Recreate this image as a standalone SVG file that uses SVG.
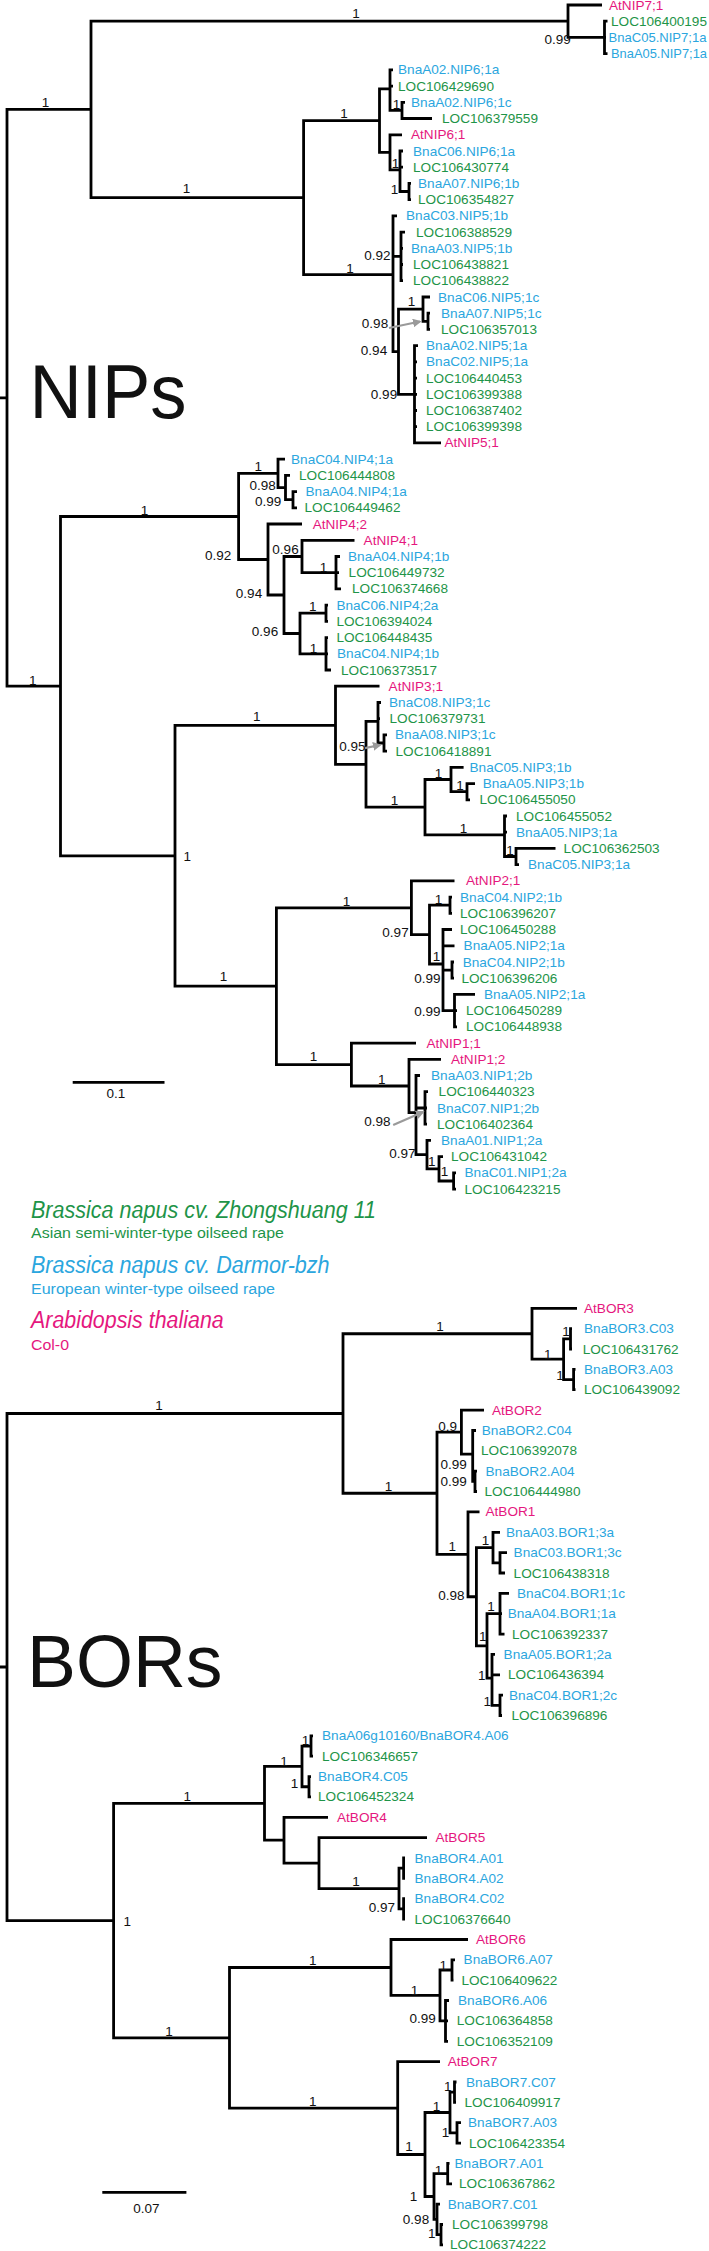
<svg xmlns="http://www.w3.org/2000/svg" width="709" height="2251" viewBox="0 0 709 2251">
<defs>
<style>
.t{font-family:"Liberation Sans",Arial,sans-serif;font-size:13.6px;dominant-baseline:central}
.m{fill:#e5177e}.b{fill:#2ba6de}.g{fill:#1e9448}
.s{font-family:"Liberation Sans",Arial,sans-serif;font-size:13.5px;fill:#111;text-anchor:middle;dominant-baseline:central}
.big{font-family:"Liberation Sans",Arial,sans-serif;fill:#111}
.lg{font-family:"Liberation Sans",Arial,sans-serif}
.br path{fill:none;stroke:#000;stroke-width:2.8;stroke-linejoin:miter}
.ar{fill:none;stroke:#9a9a9a;stroke-width:2.2}
</style>
<marker id="ah" viewBox="0 0 10 10" refX="8" refY="5" markerWidth="4" markerHeight="4" orient="auto"><path d="M0 0L10 5L0 10z" fill="#9a9a9a"/></marker>
</defs>
<rect width="709" height="2251" fill="#fff"/>
<g id="connectors" class="br">
<path d="M0 397.8H7M91 109.4H7V686.2H60.5"/>
<path d="M568 21.2H91V197.6H303.6"/>
<path d="M602 5H568V37.4H604.5"/>
<path d="M607.5 21.2H604.5V53.7H607.5M604.5 37.4H606"/>
<path d="M379.5 120.6H303.6V274.7H393"/>
<path d="M390 88.8H379.5V152.4H390"/>
<path d="M393 69.9H390V110.4H402M390 86.1H393"/>
<path d="M405 102.3H402V118.5H432"/>
<path d="M402 134.8H390V169.9H400"/>
<path d="M403 151H400V191.5H409M400 167.2H403"/>
<path d="M411 183.4H409V199.6H411"/>
<path d="M397 215.9H393V351.7H398.5M393 256.4H401"/>
<path d="M405 232.1H401V280.7H403M401 248.3H403M401 264.5H403"/>
<path d="M423 309.2H398.5V394.3H414.5"/>
<path d="M430 297H423V321.3H428"/>
<path d="M430 313.2H428V329.4H430"/>
<path d="M418 345.6H414.5V442.9H441M414.5 361.8H417M414.5 378.1H417M414.5 394.3H417M414.5 410.5H417M414.5 426.7H417"/>
<path d="M238.6 516.5H60.5V855.8H175"/>
<path d="M278 473.4H238.6V559.5H268"/>
<path d="M285 459.2H278V487.6H285.5"/>
<path d="M290 475.4H285.5V499.7H293"/>
<path d="M297 491.6H293V507.8H297"/>
<path d="M302 524H268V595H284"/>
<path d="M302 556.5H284V633.5H300"/>
<path d="M354.5 540.3H302V572.7H336"/>
<path d="M340 556.5H336V588.9H341M336 572.7H339"/>
<path d="M326 613.2H300V653.8H326"/>
<path d="M328 605.1H326V621.4H328"/>
<path d="M328 637.6H326V670H331M326 653.8H328"/>
<path d="M335.5 725.3H175V986.2H276.4"/>
<path d="M379.5 686.2H335.5V764.3H366"/>
<path d="M378 721.4H366V807.2H425"/>
<path d="M381 702.5H378V743H384M378 718.7H380"/>
<path d="M387 734.9H384V751.1H387"/>
<path d="M451 779.5H425V834.9H504.5"/>
<path d="M463.6 767.3H451V791.7H467"/>
<path d="M475 783.6H467V799.8H470"/>
<path d="M507 816H504.5V856.5H516M504.5 832.2H507"/>
<path d="M555.5 848.4H516V864.7H519"/>
<path d="M411.4 907.8H276.4V1064.6H351.4"/>
<path d="M454.5 880.9H411.4V934.6H429.5"/>
<path d="M450 905.2H429.5V964H443"/>
<path d="M452 897.1H450V913.3H452"/>
<path d="M452 929.5H443V1010.6H454.5M443 945.8H454.5M443 970.1H452"/>
<path d="M454 962H452V978.2H454"/>
<path d="M475 994.4H454.5V1026.9H457M454.5 1010.6H457"/>
<path d="M416 1043.1H351.4V1086H409"/>
<path d="M441 1059.3H409V1112.7H416"/>
<path d="M420 1075.5H416V1154.6H427M416 1108H425"/>
<path d="M428 1091.7H425V1124.2H427M425 1108H427"/>
<path d="M431 1140.4H427V1168.8H439"/>
<path d="M443 1156.6H439V1181H453.6"/>
<path d="M456 1172.8H453.6V1189.1H456"/>
<path d="M72.7 1082.3H164.5"/>
<path d="M0 1667H7M343 1413.5H7V1920.55H113.6"/>
<path d="M532 1333.75H343V1493.25H437"/>
<path d="M577 1308.3H532V1359.2H563.6"/>
<path d="M570.5 1338.85H563.6V1379.55H573.6"/>
<path d="M572 1328.7H570.5V1349H572"/>
<path d="M575.5 1369.4H573.6V1389.7H575.5"/>
<path d="M461.4 1432.2H437V1554.3H468"/>
<path d="M484 1410.1H461.4V1454.2H472.7"/>
<path d="M476 1430.5H472.7V1481.35H475M472.7 1450.8H474"/>
<path d="M477 1471.2H475V1491.5H477"/>
<path d="M479.5 1511.9H468V1596.75H476.4"/>
<path d="M493 1547.55H476.4V1645.95H487"/>
<path d="M500 1532.3H493V1562.8H500"/>
<path d="M507 1552.6H500V1573H505"/>
<path d="M500 1613.7H487V1678.2H492"/>
<path d="M509 1593.3H500V1634.1H504.5M500 1613.7H502"/>
<path d="M495 1654.4H492V1705.3H500M492 1674.8H500"/>
<path d="M503 1695.1H500V1715.5H502"/>
<path d="M264.5 1803.3H113.6V2037.8H229.5"/>
<path d="M302 1766.4H264.5V1840.2H284"/>
<path d="M311 1746.05H302V1786.75H309"/>
<path d="M313 1735.9H311V1756.2H313"/>
<path d="M311 1776.6H309V1796.9H311"/>
<path d="M328 1817.3H284V1863.1H319"/>
<path d="M427 1837.7H319V1888.55H399"/>
<path d="M403.6 1868.2H399V1908.9H403.6"/>
<path d="M405 1858H403.6V1878.4H405"/>
<path d="M405 1898.7H403.6V1919.1H405"/>
<path d="M391 1967.5H229.5V2108.05H397.7"/>
<path d="M468 1939.5H391V1995.45H440"/>
<path d="M452 1970H440V2020.9H445.5"/>
<path d="M455 1959.8H452V1980.2H453.5"/>
<path d="M449 2000.5H445.5V2041.3H448M445.5 2020.9H448"/>
<path d="M440 2061.6H397.7V2154.5H425"/>
<path d="M450 2112.5H425V2196.5H434"/>
<path d="M454.5 2092.15H450V2132.9H457"/>
<path d="M456.5 2082H454.5V2102.3H456"/>
<path d="M461 2122.7H457V2143.1H461"/>
<path d="M447.7 2173.6H434V2219.4H437"/>
<path d="M449.5 2163.4H447.7V2183.8H452"/>
<path d="M440 2204.1H437V2234.7H441"/>
<path d="M443 2224.5H441V2244.9H443"/>
<path d="M102.3 2192.3H186.4"/>
</g>
<g id="arrows">
<path class="ar" d="M389 328L420 321.5" marker-end="url(#ah)"/>
<path class="ar" d="M363.6 748.3L380 745" marker-end="url(#ah)"/>
<path class="ar" d="M393.2 1125L423 1112" marker-end="url(#ah)"/>
</g>
<g id="supports">
<text class="s" x="45.5" y="102">1</text>
<text class="s" x="356" y="13.3">1</text>
<text class="s" x="557.7" y="39.3">0.99</text>
<text class="s" x="186.4" y="188.5">1</text>
<text class="s" x="344" y="113.3">1</text>
<text class="s" x="396.4" y="104">1</text>
<text class="s" x="395.5" y="163.3">1</text>
<text class="s" x="394.5" y="189">1</text>
<text class="s" x="350" y="268.3">1</text>
<text class="s" x="377.3" y="255">0.92</text>
<text class="s" x="411.4" y="301.7">1</text>
<text class="s" x="375" y="323.3">0.98</text>
<text class="s" x="374" y="350.7">0.94</text>
<text class="s" x="384" y="394">0.99</text>
<text class="s" x="32.7" y="680">1</text>
<text class="s" x="144.5" y="510">1</text>
<text class="s" x="258.2" y="466.7">1</text>
<text class="s" x="262.7" y="485">0.98</text>
<text class="s" x="268.2" y="501">0.99</text>
<text class="s" x="218.2" y="555">0.92</text>
<text class="s" x="285.5" y="549.3">0.96</text>
<text class="s" x="249" y="593.3">0.94</text>
<text class="s" x="323.6" y="567.7">1</text>
<text class="s" x="312.7" y="606.7">1</text>
<text class="s" x="265" y="631">0.96</text>
<text class="s" x="313.6" y="648.3">1</text>
<text class="s" x="187.3" y="856.7">1</text>
<text class="s" x="256.8" y="716.7">1</text>
<text class="s" x="352.3" y="746.7">0.95</text>
<text class="s" x="394.5" y="800">1</text>
<text class="s" x="438.6" y="773.3">1</text>
<text class="s" x="460" y="785">1</text>
<text class="s" x="463.6" y="828.3">1</text>
<text class="s" x="510" y="850">1</text>
<text class="s" x="346.4" y="901">1</text>
<text class="s" x="438.6" y="899.3">1</text>
<text class="s" x="395.5" y="932.3">0.97</text>
<text class="s" x="436.4" y="956.7">1</text>
<text class="s" x="427.3" y="978.3">0.99</text>
<text class="s" x="427.3" y="1011">0.99</text>
<text class="s" x="223.6" y="976.7">1</text>
<text class="s" x="313.6" y="1056.7">1</text>
<text class="s" x="381.8" y="1079">1</text>
<text class="s" x="377.3" y="1121.7">0.98</text>
<text class="s" x="402.3" y="1153.3">0.97</text>
<text class="s" x="431.8" y="1161.7">1</text>
<text class="s" x="444.5" y="1171.7">1</text>
<text class="s" x="116" y="1093.3">0.1</text>
<text class="s" x="159" y="1405">1</text>
<text class="s" x="440" y="1326.7">1</text>
<text class="s" x="547.7" y="1354.3">1</text>
<text class="s" x="566" y="1331.7">1</text>
<text class="s" x="560" y="1375">1</text>
<text class="s" x="447.7" y="1426.7">0.9</text>
<text class="s" x="453.6" y="1464.3">0.99</text>
<text class="s" x="453.6" y="1481">0.99</text>
<text class="s" x="388.6" y="1486.7">1</text>
<text class="s" x="452.3" y="1546.7">1</text>
<text class="s" x="485.5" y="1540.7">1</text>
<text class="s" x="451.4" y="1595">0.98</text>
<text class="s" x="491" y="1606.7">1</text>
<text class="s" x="482.7" y="1636.7">1</text>
<text class="s" x="481.8" y="1675">1</text>
<text class="s" x="487.3" y="1701.7">1</text>
<text class="s" x="305.5" y="1740">1</text>
<text class="s" x="284" y="1761.7">1</text>
<text class="s" x="294.5" y="1783.3">1</text>
<text class="s" x="187.3" y="1796.7">1</text>
<text class="s" x="356" y="1881.7">1</text>
<text class="s" x="381.8" y="1907.3">0.97</text>
<text class="s" x="127.3" y="1921">1</text>
<text class="s" x="312.7" y="1960">1</text>
<text class="s" x="443.2" y="1965">1</text>
<text class="s" x="414.5" y="1990">1</text>
<text class="s" x="422.7" y="2018.3">0.99</text>
<text class="s" x="169" y="2031.7">1</text>
<text class="s" x="447.7" y="2086.7">1</text>
<text class="s" x="312.7" y="2101.7">1</text>
<text class="s" x="436.4" y="2106.7">1</text>
<text class="s" x="445.5" y="2132.3">1</text>
<text class="s" x="409" y="2146.7">1</text>
<text class="s" x="438.6" y="2170">1</text>
<text class="s" x="413.6" y="2196.7">1</text>
<text class="s" x="416" y="2219.3">0.98</text>
<text class="s" x="431.8" y="2233.3">1</text>
<text class="s" x="146.4" y="2208.3">0.07</text>
</g>
<g id="titles">
<text class="big" x="29.5" y="418.3" font-size="76" textLength="157" lengthAdjust="spacingAndGlyphs">NIPs</text>
<text class="big" x="27" y="1686.7" font-size="75" textLength="195.5" lengthAdjust="spacingAndGlyphs">BORs</text>
</g>
<g id="legend">
<text class="lg g" x="31" y="1218.3" font-size="23" font-style="italic" textLength="345" lengthAdjust="spacingAndGlyphs">Brassica napus cv. Zhongshuang 11</text>
<text class="lg g" x="31" y="1238.3" font-size="15.5" textLength="253" lengthAdjust="spacingAndGlyphs">Asian semi-winter-type oilseed rape</text>
<text class="lg b" x="31" y="1272.7" font-size="23" font-style="italic" textLength="298.6" lengthAdjust="spacingAndGlyphs">Brassica napus cv. Darmor-bzh</text>
<text class="lg b" x="31" y="1294.3" font-size="15.5" textLength="244" lengthAdjust="spacingAndGlyphs">European winter-type oilseed rape</text>
<text class="lg m" x="31" y="1328.3" font-size="23" font-style="italic" textLength="192.7" lengthAdjust="spacingAndGlyphs">Arabidopsis thaliana</text>
<text class="lg m" x="31" y="1350" font-size="15.5" textLength="38" lengthAdjust="spacingAndGlyphs">Col-0</text>
</g>
<g id="nip-leaves">
<g id="nip01"><text class="t m" x="609" y="5">AtNIP7;1</text></g>
<g id="nip02"><text class="t g" x="611" y="21.2">LOC106400195</text></g>
<g id="nip03"><text class="t b" x="608.5" y="37.4" textLength="98" lengthAdjust="spacingAndGlyphs">BnaC05.NIP7;1a</text></g>
<g id="nip04"><text class="t b" x="611" y="53.7" textLength="96" lengthAdjust="spacingAndGlyphs">BnaA05.NIP7;1a</text></g>
<g id="nip05"><text class="t b" x="398" y="69.9">BnaA02.NIP6;1a</text></g>
<g id="nip06"><text class="t g" x="398" y="86.1">LOC106429690</text></g>
<g id="nip07"><text class="t b" x="411" y="102.3">BnaA02.NIP6;1c</text></g>
<g id="nip08"><text class="t g" x="442" y="118.5">LOC106379559</text></g>
<g id="nip09"><text class="t m" x="411" y="134.8">AtNIP6;1</text></g>
<g id="nip10"><text class="t b" x="413" y="151">BnaC06.NIP6;1a</text></g>
<g id="nip11"><text class="t g" x="413" y="167.2">LOC106430774</text></g>
<g id="nip12"><text class="t b" x="418" y="183.4">BnaA07.NIP6;1b</text></g>
<g id="nip13"><text class="t g" x="418" y="199.6">LOC106354827</text></g>
<g id="nip14"><text class="t b" x="406" y="215.9">BnaC03.NIP5;1b</text></g>
<g id="nip15"><text class="t g" x="416" y="232.1">LOC106388529</text></g>
<g id="nip16"><text class="t b" x="411" y="248.3">BnaA03.NIP5;1b</text></g>
<g id="nip17"><text class="t g" x="413" y="264.5">LOC106438821</text></g>
<g id="nip18"><text class="t g" x="413" y="280.7">LOC106438822</text></g>
<g id="nip19"><text class="t b" x="438" y="297">BnaC06.NIP5;1c</text></g>
<g id="nip20"><text class="t b" x="441" y="313.2">BnaA07.NIP5;1c</text></g>
<g id="nip21"><text class="t g" x="441" y="329.4">LOC106357013</text></g>
<g id="nip22"><text class="t b" x="426" y="345.6">BnaA02.NIP5;1a</text></g>
<g id="nip23"><text class="t b" x="426" y="361.8">BnaC02.NIP5;1a</text></g>
<g id="nip24"><text class="t g" x="426" y="378.1">LOC106440453</text></g>
<g id="nip25"><text class="t g" x="426" y="394.3">LOC106399388</text></g>
<g id="nip26"><text class="t g" x="426" y="410.5">LOC106387402</text></g>
<g id="nip27"><text class="t g" x="426" y="426.7">LOC106399398</text></g>
<g id="nip28"><text class="t m" x="444.5" y="442.9">AtNIP5;1</text></g>
<g id="nip29"><text class="t b" x="291" y="459.2">BnaC04.NIP4;1a</text></g>
<g id="nip30"><text class="t g" x="299" y="475.4">LOC106444808</text></g>
<g id="nip31"><text class="t b" x="305.5" y="491.6">BnaA04.NIP4;1a</text></g>
<g id="nip32"><text class="t g" x="304.5" y="507.8">LOC106449462</text></g>
<g id="nip33"><text class="t m" x="312.7" y="524">AtNIP4;2</text></g>
<g id="nip34"><text class="t m" x="363.6" y="540.3">AtNIP4;1</text></g>
<g id="nip35"><text class="t b" x="348" y="556.5">BnaA04.NIP4;1b</text></g>
<g id="nip36"><text class="t g" x="348.6" y="572.7">LOC106449732</text></g>
<g id="nip37"><text class="t g" x="352" y="588.9">LOC106374668</text></g>
<g id="nip38"><text class="t b" x="336.4" y="605.1">BnaC06.NIP4;2a</text></g>
<g id="nip39"><text class="t g" x="336.4" y="621.4">LOC106394024</text></g>
<g id="nip40"><text class="t g" x="336.4" y="637.6">LOC106448435</text></g>
<g id="nip41"><text class="t b" x="337" y="653.8">BnaC04.NIP4;1b</text></g>
<g id="nip42"><text class="t g" x="341" y="670">LOC106373517</text></g>
<g id="nip43"><text class="t m" x="388.6" y="686.2">AtNIP3;1</text></g>
<g id="nip44"><text class="t b" x="389" y="702.5">BnaC08.NIP3;1c</text></g>
<g id="nip45"><text class="t g" x="389.5" y="718.7">LOC106379731</text></g>
<g id="nip46"><text class="t b" x="395" y="734.9">BnaA08.NIP3;1c</text></g>
<g id="nip47"><text class="t g" x="395.5" y="751.1">LOC106418891</text></g>
<g id="nip48"><text class="t b" x="469.5" y="767.3">BnaC05.NIP3;1b</text></g>
<g id="nip49"><text class="t b" x="482.7" y="783.6">BnaA05.NIP3;1b</text></g>
<g id="nip50"><text class="t g" x="479.5" y="799.8">LOC106455050</text></g>
<g id="nip51"><text class="t g" x="516" y="816">LOC106455052</text></g>
<g id="nip52"><text class="t b" x="516" y="832.2">BnaA05.NIP3;1a</text></g>
<g id="nip53"><text class="t g" x="563.6" y="848.4">LOC106362503</text></g>
<g id="nip54"><text class="t b" x="528" y="864.7">BnaC05.NIP3;1a</text></g>
<g id="nip55"><text class="t m" x="466" y="880.9">AtNIP2;1</text></g>
<g id="nip56"><text class="t b" x="460" y="897.1">BnaC04.NIP2;1b</text></g>
<g id="nip57"><text class="t g" x="460" y="913.3">LOC106396207</text></g>
<g id="nip58"><text class="t g" x="460" y="929.5">LOC106450288</text></g>
<g id="nip59"><text class="t b" x="463.6" y="945.8">BnaA05.NIP2;1a</text></g>
<g id="nip60"><text class="t b" x="462.7" y="962">BnaC04.NIP2;1b</text></g>
<g id="nip61"><text class="t g" x="461.4" y="978.2">LOC106396206</text></g>
<g id="nip62"><text class="t b" x="484" y="994.4">BnaA05.NIP2;1a</text></g>
<g id="nip63"><text class="t g" x="466" y="1010.6">LOC106450289</text></g>
<g id="nip64"><text class="t g" x="466" y="1026.9">LOC106448938</text></g>
<g id="nip65"><text class="t m" x="426.4" y="1043.1">AtNIP1;1</text></g>
<g id="nip66"><text class="t m" x="451" y="1059.3">AtNIP1;2</text></g>
<g id="nip67"><text class="t b" x="431" y="1075.5">BnaA03.NIP1;2b</text></g>
<g id="nip68"><text class="t g" x="438.6" y="1091.7">LOC106440323</text></g>
<g id="nip69"><text class="t b" x="437" y="1108">BnaC07.NIP1;2b</text></g>
<g id="nip70"><text class="t g" x="437" y="1124.2">LOC106402364</text></g>
<g id="nip71"><text class="t b" x="441" y="1140.4">BnaA01.NIP1;2a</text></g>
<g id="nip72"><text class="t g" x="451" y="1156.6">LOC106431042</text></g>
<g id="nip73"><text class="t b" x="464.5" y="1172.8">BnaC01.NIP1;2a</text></g>
<g id="nip74"><text class="t g" x="464.5" y="1189.1">LOC106423215</text></g>
</g>
<g id="bor-leaves">
<g id="bor01"><text class="t m" x="584" y="1308.3">AtBOR3</text></g>
<g id="bor02"><text class="t b" x="584" y="1328.7">BnaBOR3.C03</text></g>
<g id="bor03"><text class="t g" x="582.7" y="1349">LOC106431762</text></g>
<g id="bor04"><text class="t b" x="584" y="1369.4">BnaBOR3.A03</text></g>
<g id="bor05"><text class="t g" x="584" y="1389.7">LOC106439092</text></g>
<g id="bor06"><text class="t m" x="492" y="1410.1">AtBOR2</text></g>
<g id="bor07"><text class="t b" x="481.8" y="1430.5">BnaBOR2.C04</text></g>
<g id="bor08"><text class="t g" x="481" y="1450.8">LOC106392078</text></g>
<g id="bor09"><text class="t b" x="485.5" y="1471.2">BnaBOR2.A04</text></g>
<g id="bor10"><text class="t g" x="484.5" y="1491.5">LOC106444980</text></g>
<g id="bor11"><text class="t m" x="485.5" y="1511.9">AtBOR1</text></g>
<g id="bor12"><text class="t b" x="506" y="1532.3">BnaA03.BOR1;3a</text></g>
<g id="bor13"><text class="t b" x="513.6" y="1552.6">BnaC03.BOR1;3c</text></g>
<g id="bor14"><text class="t g" x="513.6" y="1573">LOC106438318</text></g>
<g id="bor15"><text class="t b" x="517" y="1593.3">BnaC04.BOR1;1c</text></g>
<g id="bor16"><text class="t b" x="507.7" y="1613.7">BnaA04.BOR1;1a</text></g>
<g id="bor17"><text class="t g" x="512" y="1634.1">LOC106392337</text></g>
<g id="bor18"><text class="t b" x="503.6" y="1654.4">BnaA05.BOR1;2a</text></g>
<g id="bor19"><text class="t g" x="508" y="1674.8">LOC106436394</text></g>
<g id="bor20"><text class="t b" x="509" y="1695.1">BnaC04.BOR1;2c</text></g>
<g id="bor21"><text class="t g" x="511.4" y="1715.5">LOC106396896</text></g>
<g id="bor22"><text class="t b" x="322" y="1735.9">BnaA06g10160/BnaBOR4.A06</text></g>
<g id="bor23"><text class="t g" x="322" y="1756.2">LOC106346657</text></g>
<g id="bor24"><text class="t b" x="318" y="1776.6">BnaBOR4.C05</text></g>
<g id="bor25"><text class="t g" x="318" y="1796.9">LOC106452324</text></g>
<g id="bor26"><text class="t m" x="337" y="1817.3">AtBOR4</text></g>
<g id="bor27"><text class="t m" x="435.5" y="1837.7">AtBOR5</text></g>
<g id="bor28"><text class="t b" x="414.5" y="1858">BnaBOR4.A01</text></g>
<g id="bor29"><text class="t b" x="414.5" y="1878.4">BnaBOR4.A02</text></g>
<g id="bor30"><text class="t b" x="414.5" y="1898.7">BnaBOR4.C02</text></g>
<g id="bor31"><text class="t g" x="414.5" y="1919.1">LOC106376640</text></g>
<g id="bor32"><text class="t m" x="476" y="1939.5">AtBOR6</text></g>
<g id="bor33"><text class="t b" x="463.6" y="1959.8">BnaBOR6.A07</text></g>
<g id="bor34"><text class="t g" x="461.4" y="1980.2">LOC106409622</text></g>
<g id="bor35"><text class="t b" x="458" y="2000.5">BnaBOR6.A06</text></g>
<g id="bor36"><text class="t g" x="456.8" y="2020.9">LOC106364858</text></g>
<g id="bor37"><text class="t g" x="456.8" y="2041.3">LOC106352109</text></g>
<g id="bor38"><text class="t m" x="447.7" y="2061.6">AtBOR7</text></g>
<g id="bor39"><text class="t b" x="466" y="2082">BnaBOR7.C07</text></g>
<g id="bor40"><text class="t g" x="464.5" y="2102.3">LOC106409917</text></g>
<g id="bor41"><text class="t b" x="468" y="2122.7">BnaBOR7.A03</text></g>
<g id="bor42"><text class="t g" x="469" y="2143.1">LOC106423354</text></g>
<g id="bor43"><text class="t b" x="454.5" y="2163.4">BnaBOR7.A01</text></g>
<g id="bor44"><text class="t g" x="459" y="2183.8">LOC106367862</text></g>
<g id="bor45"><text class="t b" x="447.7" y="2204.1">BnaBOR7.C01</text></g>
<g id="bor46"><text class="t g" x="452" y="2224.5">LOC106399798</text></g>
<g id="bor47"><text class="t g" x="450" y="2244.9">LOC106374222</text></g>
</g>
</svg>
